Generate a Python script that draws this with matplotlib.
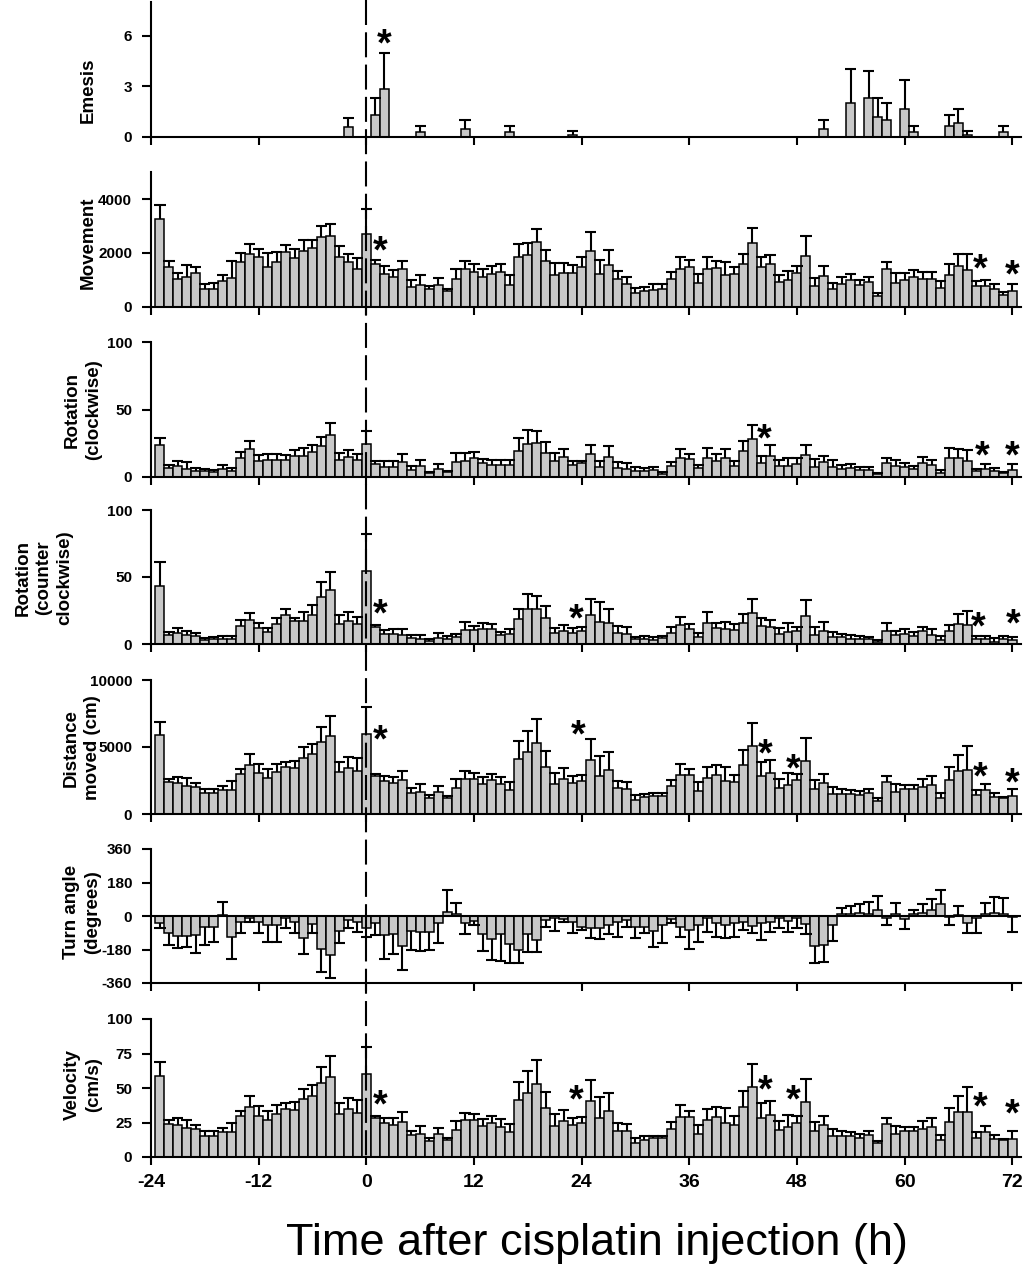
########## Behavioural time-course after cisplatin: 7 stacked bar panels
import numpy as np
import matplotlib
matplotlib.use("Agg")
import matplotlib.pyplot as plt
from matplotlib.lines import Line2D

plt.rcParams['font.family'] = ['Liberation Sans', 'DejaVu Sans']
plt.rcParams['axes.unicode_minus'] = False

########## data (hourly bins, -23 .. 72 h)
hours = np.arange(-23, 73)

# emesis only has a few non-zero bins
emesis_hours = [-2, 1, 2, 6, 11, 16, 23, 51, 54, 56, 57, 58, 60, 61, 65, 66, 67, 71]
emesis_mean = [0.6, 1.32, 2.84, 0.32, 0.5, 0.32, 0.14, 0.5, 2.0, 2.34, 1.16, 1.0, 1.68, 0.32, 0.66, 0.84, 0.14, 0.32]
emesis_top = [1.1, 2.3, 5.0, 0.64, 1.0, 0.64, 0.34, 1.0, 4.02, 3.92, 2.34, 2.0, 3.36, 0.64, 1.32, 1.68, 0.34, 0.64]

movement_mean = [3255, 1466, 1030, 1093, 1242, 646, 646, 970, 1068, 1665, 1963, 1850, 1490, 1677, 2025, 1800, 2075, 2186, 2584, 2646, 1838, 1652, 1416,
                 2696, 1602, 1205, 1106, 1404, 745, 807, 646, 820, 584, 1043, 1416, 1304, 1106, 1217, 1292, 820, 1863, 1938, 2422, 1689, 1193, 1267, 1267,
                 1478, 2075, 1217, 1553, 1043, 845, 497, 596, 621, 658, 1043, 1416, 1490, 870, 1391, 1428, 1180, 1217, 1602, 2385, 1478, 1590, 932, 994,
                 1242, 1888, 758, 1143, 658, 845, 981, 820, 932, 410, 1391, 870, 981, 1093, 1043, 1019, 696, 1168, 1515, 1379, 783, 783, 646, 435, 584]
movement_top = [3800, 1700, 1270, 1550, 1490, 830, 880, 1170, 1714, 1990, 2320, 2160, 2000, 2025, 2285, 2137, 2484, 2484, 3006, 3068, 2273, 1963, 1826,
                3652, 1739, 1528, 1366, 1714, 981, 1168, 783, 1056, 671, 1416, 1690, 1590, 1391, 1515, 1590, 1168, 2348, 2373, 2882, 2124, 1640, 1640, 1553,
                1863, 2795, 1739, 2100, 1329, 1093, 683, 720, 845, 832, 1280, 1863, 1739, 1205, 1850, 1702, 1677, 1490, 1975, 2919, 1850, 1938, 1180, 1341,
                1515, 2646, 1081, 1515, 882, 1106, 1230, 981, 1093, 522, 1665, 1267, 1267, 1379, 1304, 1304, 956, 1590, 1950, 1975, 969, 994, 857, 547, 857]

rot_cw_mean = [23.4, 6.7, 7.7, 5.7, 4.5, 4.5, 3.5, 6.0, 4.5, 14.2, 20.4, 11.7, 12.2, 12.2, 12.2, 15.7, 15.7, 18.7, 22.9, 31.3, 12.7, 14.7, 12.4,
               24.4, 9.5, 7.5, 7.5, 10.9, 4.7, 7.7, 2.7, 5.7, 3.2, 10.9, 11.9, 13.7, 10.0, 9.0, 8.7, 8.5, 18.9, 24.1, 25.4, 17.9, 11.9, 14.4, 8.7,
               10.2, 16.7, 7.5, 14.4, 6.2, 5.7, 4.0, 4.2, 4.7, 2.2, 8.2, 14.2, 12.9, 6.2, 13.7, 11.7, 13.7, 7.7, 18.9, 27.9, 10.4, 15.2, 8.0, 8.0,
               9.2, 16.2, 7.5, 10.7, 7.5, 5.7, 6.2, 5.0, 4.7, 1.7, 10.2, 8.2, 7.5, 5.5, 10.2, 9.0, 2.7, 14.2, 13.9, 11.9, 4.2, 6.0, 4.0, 2.7, 5.0]
rot_cw_top = [28.9, 8.7, 11.4, 10.7, 6.7, 5.5, 5.2, 8.7, 6.7, 18.2, 26.4, 15.9, 16.9, 16.9, 16.2, 19.9, 21.4, 23.6, 29.9, 40.0, 17.7, 19.7, 16.7,
              34.3, 11.7, 11.4, 11.9, 16.9, 8.2, 12.4, 3.7, 9.5, 4.5, 17.9, 17.9, 18.4, 13.2, 12.4, 12.2, 12.4, 28.9, 34.8, 34.1, 25.9, 17.9, 20.6, 11.9,
              11.7, 23.9, 11.9, 22.9, 10.9, 10.0, 7.0, 6.5, 7.0, 3.2, 11.2, 20.6, 17.2, 8.7, 21.6, 16.9, 20.4, 11.7, 26.6, 38.6, 15.7, 23.6, 12.2, 14.2,
              13.7, 23.6, 12.9, 15.2, 12.7, 9.0, 9.2, 7.5, 7.2, 2.7, 13.7, 12.7, 10.4, 8.2, 14.7, 12.7, 5.0, 21.1, 20.9, 19.7, 5.7, 9.5, 6.2, 3.7, 9.5]

rot_ccw_mean = [43.3, 7.0, 8.0, 6.7, 6.2, 3.0, 3.5, 4.0, 4.0, 13.7, 17.9, 11.7, 9.2, 14.9, 21.9, 17.4, 17.4, 21.4, 35.3, 40.3, 14.7, 16.9, 14.7,
                54.5, 12.7, 7.5, 7.2, 6.7, 4.7, 4.0, 2.2, 4.7, 4.0, 5.0, 10.2, 10.7, 10.9, 10.9, 7.0, 7.2, 18.4, 25.9, 25.9, 19.2, 8.5, 10.0, 8.0,
                10.0, 21.9, 16.7, 15.7, 8.0, 7.7, 3.5, 3.5, 3.0, 4.2, 8.5, 14.2, 11.2, 5.2, 15.4, 12.2, 11.4, 10.7, 15.7, 23.4, 13.2, 12.4, 7.7, 9.0,
                9.7, 20.6, 6.7, 10.0, 5.0, 5.0, 4.0, 3.5, 3.5, 1.7, 10.0, 7.0, 7.5, 6.2, 10.0, 7.0, 3.0, 9.5, 14.7, 14.4, 3.7, 3.7, 1.7, 3.5, 2.7]
rot_ccw_top = [61.0, 9.0, 12.2, 10.0, 8.2, 4.7, 5.5, 5.7, 6.2, 18.2, 22.9, 15.9, 12.2, 19.7, 25.9, 19.7, 23.6, 28.9, 46.3, 53.5, 21.6, 23.6, 20.1,
               82.0, 13.9, 10.7, 10.9, 10.9, 6.7, 6.7, 4.0, 8.0, 6.0, 7.2, 16.7, 13.7, 15.4, 14.7, 8.7, 11.2, 25.9, 37.3, 35.8, 28.6, 11.7, 14.2, 11.9,
               12.4, 33.8, 31.3, 26.4, 13.7, 12.4, 5.0, 5.7, 5.5, 6.2, 12.7, 19.9, 14.9, 8.0, 23.9, 15.7, 16.7, 14.9, 22.4, 33.3, 19.7, 17.9, 11.9, 15.4,
               12.4, 33.1, 12.7, 16.4, 8.7, 7.5, 6.5, 6.0, 5.0, 3.0, 15.4, 9.7, 11.4, 9.2, 12.9, 11.2, 6.0, 14.4, 22.1, 24.9, 6.2, 6.2, 4.5, 5.7, 5.2]

distance_mean = [5896, 2413, 2289, 2114, 2040, 1542, 1542, 1791, 1791, 2960, 3657, 3035, 2711, 3159, 3507, 3408, 4204, 4453, 5348, 5821, 3109, 3458, 3209,
                 5970, 2836, 2463, 2289, 2537, 1592, 1667, 1169, 1642, 1194, 1940, 2637, 2637, 2264, 2512, 2214, 1816, 4129, 4627, 5323, 3532, 2264, 2587, 2289,
                 2463, 4030, 2836, 3284, 1915, 1841, 1045, 1269, 1343, 1343, 2065, 2886, 2886, 1692, 2662, 2886, 2488, 2363, 3632, 5100, 2861, 3035, 1965, 2189,
                 2512, 3930, 1866, 2289, 1493, 1493, 1493, 1393, 1592, 995, 2413, 1667, 1841, 1866, 2040, 2189, 1194, 2537, 3234, 3259, 1418, 1791, 1294, 1219, 1318]
distance_top = [6890, 2637, 2786, 2662, 2338, 1841, 1890, 2090, 2463, 3358, 4453, 3706, 3333, 3731, 3905, 3980, 4975, 5224, 6517, 7289, 3905, 4279, 4154,
                7960, 2960, 2836, 2786, 3234, 1915, 2239, 1418, 2090, 1343, 2587, 3209, 3085, 2736, 2960, 2736, 2413, 5448, 6194, 7065, 4701, 3085, 3408, 2836,
                2910, 5572, 4328, 4627, 2488, 2388, 1393, 1493, 1567, 1542, 2537, 3756, 3333, 2363, 3483, 3657, 3532, 2935, 4776, 6766, 3905, 4030, 2612, 3035,
                2985, 5647, 2537, 3010, 2015, 1890, 1791, 1692, 1866, 1169, 2836, 2239, 2189, 2189, 2612, 2836, 1592, 3532, 4428, 5050, 1791, 2264, 1592, 1294, 1866]

turn_mean = [-40, -90, -106, -106, -102, -61, -57, 5, -111, -34, -12, -34, -48, -48, -12, -34, -116, -45, -179, -210, -79, -21, -34,
             -63, -39, -102, -97, -161, -79, -88, -84, -36, 23, 9, -39, -27, -99, -124, -99, -152, -183, -99, -129, -21, -12, -18, -34,
             -57, -66, -66, -48, -30, -21, -57, -57, -79, -48, -16, -57, -75, -48, -12, -39, -48, -39, -34, -52, -39, -34, -12, -27,
             -12, -43, -159, -156, -48, 9, 13, 18, 13, 30, -12, 13, -16, 9, 18, 32, 63, -4, 5, -39, -9, 9, 14, 9, -4]
turn_end = [-62, -156, -174, -167, -200, -156, -138, 77, -231, -90, -30, -93, -138, -138, -63, -93, -202, -93, -300, -335, -143, -66, -84,
            -113, -102, -231, -206, -290, -183, -188, -183, -147, 140, 68, -99, -48, -188, -236, -242, -254, -254, -195, -195, -57, -81, -34, -90,
            -75, -120, -124, -99, -111, -57, -116, -93, -168, -147, -39, -111, -177, -142, -84, -111, -120, -111, -75, -93, -129, -88, -66, -84,
            -66, -97, -253, -249, -134, 45, 54, 63, 77, 109, -48, 70, -70, 30, 66, 90, 141, -48, 54, -93, -93, 72, 102, 97, -88]

velocity_mean = [59, 24, 23, 21, 20, 15.5, 15.5, 18, 18, 29.5, 36.5, 30, 27, 31.5, 35, 34, 42, 44.5, 53.5, 58, 31, 34.5, 32,
                 60, 28.5, 24.5, 23, 25.5, 16, 16.5, 11.5, 16.5, 12, 19.5, 26.5, 26.5, 22.5, 25, 22, 18, 41.5, 46.5, 53, 35.5, 22.5, 26, 23,
                 24.5, 40.5, 28.5, 33, 19, 18.5, 10.5, 12.5, 13.5, 13.5, 20.5, 29, 29, 17, 26.5, 29, 25, 23.5, 36.5, 51, 28.5, 30.5, 19.5, 22,
                 25, 39.5, 18.5, 23, 15, 15, 15, 14, 16, 10, 24, 16.5, 18.5, 18.5, 20.5, 22, 12, 25.5, 32.5, 32.5, 14, 18, 13, 12, 13]
velocity_top = [69, 26.5, 28, 26.5, 23.5, 18.5, 19, 21, 24.5, 33.5, 44.5, 37, 33.5, 37.5, 39, 40, 49.5, 52, 65, 73, 39, 43, 41.5,
                79.5, 29.5, 28.5, 28, 32.5, 19, 22.5, 14, 21, 13.5, 26, 32, 31, 27.5, 29.5, 27.5, 24, 54.5, 62, 70.5, 47, 31, 34, 28.5,
                29, 55.5, 43.5, 46.5, 25, 24, 14, 15, 15.5, 15.5, 25.5, 37.5, 33.5, 23.5, 35, 36.5, 35.5, 29.5, 48, 67.5, 39, 40.5, 26, 30.5,
                30, 56.5, 25.5, 30, 20, 19, 18, 17, 18.5, 11.5, 28.5, 22.5, 22, 22, 26, 28.5, 16, 35.5, 44.5, 50.5, 18, 22.5, 16, 13, 18.5]

# significance asterisks (hour, height)
emesis_star = ([2.0], [5.9])
movement_star = ([1.5, 68.4, 72.0], [2300, 1630, 1440])
rot_cw_star = ([44.3, 68.6, 72.0], [33, 20, 20])
rot_ccw_star = ([1.5, 23.4, 68.2, 72.1], [27.6, 23.9, 17.9, 20])
distance_star = ([1.5, 23.6, 44.4, 47.6, 68.4, 72.0], [6045, 6418, 5000, 3880, 3284, 2836])
velocity_star = ([1.5, 23.4, 44.4, 47.6, 68.4, 72.0], [42.8, 46.4, 53.6, 46.4, 41.3, 36.2])

x_ticks = [-24, -12, 0, 12, 24, 36, 48, 60, 72]


########## figure layout (pixel geometry of the original)
W, H = 1024, 1272
fig = plt.figure(figsize=(W / 100, H / 100), dpi=100)

X0, X1 = 151, 1021
BAR_COLOR = '#c8c8c8'
CAP = 0.62


def make_axes(top, bottom):
    ax = fig.add_axes([X0 / W, 1 - bottom / H, (X1 - X0) / W, (bottom - top) / H])
    ax.set_xlim(-24, 72.97)
    ax.spines['top'].set_visible(False)
    ax.spines['right'].set_visible(False)
    for s in ('left', 'bottom'):
        ax.spines[s].set_linewidth(1.5)
    ax.tick_params(axis='y', direction='out', length=6.5, width=1.5, pad=7)
    ax.tick_params(axis='x', direction='out', length=5.5, width=1.5, pad=5)
    ax.set_xticks(x_ticks)
    ax.tick_params(axis='x', labelbottom=False)
    return ax


def draw_bars(ax, x, mean, ends):
    x = np.asarray(x, dtype=float)
    mean = np.asarray(mean, dtype=float)
    ends = np.asarray(ends, dtype=float)
    ax.bar(x, mean, width=1.0, color=BAR_COLOR, edgecolor='black', linewidth=1.1, zorder=2)
    ax.vlines(x, mean, ends, color='black', linewidth=1.5, zorder=3)
    ax.hlines(ends, x - CAP, x + CAP, color='black', linewidth=1.5, zorder=3)


def draw_stars(ax, star):
    for sx, sy in zip(*star):
        ax.annotate('*', xy=(sx, sy), xytext=(0, -13), textcoords='offset points',
                    ha='center', va='baseline', fontsize=27, fontweight='bold')


def set_yticks(ax, ticks, lim):
    ax.set_ylim(*lim)
    ax.set_yticks(ticks)
    ax.set_yticklabels([str(t) for t in ticks], fontsize=11, fontweight='bold')


##### Emesis
ax1 = make_axes(2.3, 137)
draw_bars(ax1, emesis_hours, emesis_mean, emesis_top)
set_yticks(ax1, [0, 3, 6], (0, 8))
draw_stars(ax1, emesis_star)

##### Movement
ax2 = make_axes(172.4, 306.7)
draw_bars(ax2, hours, movement_mean, movement_top)
set_yticks(ax2, [0, 2000, 4000], (0, 5000))
draw_stars(ax2, movement_star)

##### Rotation (clockwise)
ax3 = make_axes(342.3, 476.7)
draw_bars(ax3, hours, rot_cw_mean, rot_cw_top)
set_yticks(ax3, [0, 50, 100], (0, 100))
draw_stars(ax3, rot_cw_star)

##### Rotation (counter clockwise)
ax4 = make_axes(510, 644)
draw_bars(ax4, hours, rot_ccw_mean, rot_ccw_top)
set_yticks(ax4, [0, 50, 100], (0, 100))
draw_stars(ax4, rot_ccw_star)

##### Distance moved
ax5 = make_axes(680, 814)
draw_bars(ax5, hours, distance_mean, distance_top)
set_yticks(ax5, [0, 5000, 10000], (0, 10000))
draw_stars(ax5, distance_star)

##### Turn angle
ax6 = make_axes(849, 983)
draw_bars(ax6, hours, turn_mean, turn_end)
ax6.axhline(0, color='black', linewidth=1.5, zorder=4)
set_yticks(ax6, [-360, -180, 0, 180, 360], (-360, 360))

##### Velocity
ax7 = make_axes(1019, 1157)
draw_bars(ax7, hours, velocity_mean, velocity_top)
set_yticks(ax7, [0, 25, 50, 75, 100], (0, 100))
draw_stars(ax7, velocity_star)
ax7.tick_params(axis='x', labelbottom=True, pad=7)
ax7.set_xticklabels([str(t) for t in x_ticks], fontsize=14, fontweight='bold')


########## y labels
ylab_kw = dict(rotation=90, ha='center', va='center', fontsize=13.5, fontweight='bold',
               multialignment='center', linespacing=1.3)
fig.text(88 / W, 1 - 90 / H, 'Emesis', **ylab_kw)
fig.text(88 / W, 1 - 243 / H, 'Movement', **ylab_kw)
fig.text(83 / W, 1 - 410 / H, 'Rotation\n(clockwise)', **ylab_kw)
fig.text(44 / W, 1 - 578 / H, 'Rotation\n(counter\nclockwise)', **ylab_kw)
fig.text(82 / W, 1 - 748 / H, 'Distance\nmoved (cm)', **ylab_kw)
fig.text(82 / W, 1 - 912 / H, 'Turn angle\n(degrees)', **ylab_kw)
fig.text(83 / W, 1 - 1085 / H, 'Velocity\n(cm/s)', **ylab_kw)

fig.text(597 / W, 1 - 1243 / H, 'Time after cisplatin injection (h)',
         ha='center', va='center', fontsize=32.5)


########## dashed line at injection time, through every panel
x_zero = fig.transFigure.inverted().transform(ax7.transData.transform((0, 0)))[0]
fig.add_artist(Line2D([x_zero, x_zero], [1.0, 1 - 1165 / H], transform=fig.transFigure,
                      color='black', linewidth=1.5, linestyle=(0, (12, 3.5)), zorder=10))

plt.savefig('out.png', dpi=100)
